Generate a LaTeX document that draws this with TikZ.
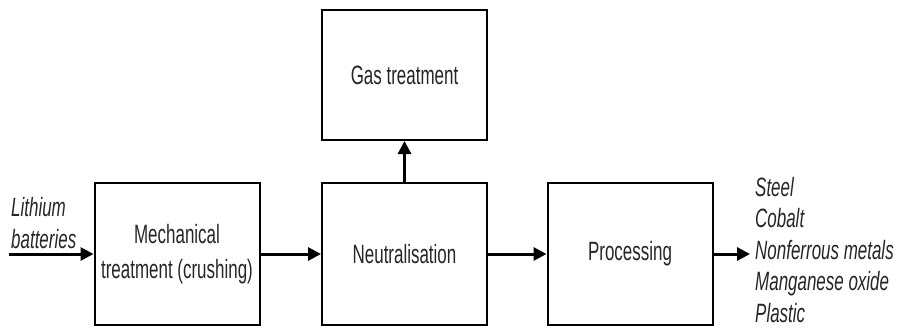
\documentclass[tikz,border=0pt]{standalone}
\usepackage{fontspec}
\setmainfont[FakeStretch=0.64]{Liberation Sans}
\usetikzlibrary{arrows.meta}
\begin{document}
\begin{tikzpicture}[x=1pt,y=-1pt,
  font=\fontsize{26.5}{33}\selectfont,
  stage/.style={draw=black, line width=2pt, minimum width=165pt, minimum height=142pt,
    align=center, inner sep=0pt, text=black!85},
  flow/.style={line width=3pt, -{Triangle[length=13pt,width=13pt]}},
  label/.style={inner sep=0pt, align=left, text=black!85, font=\fontsize{26.5}{32.5}\selectfont\itshape}]
  \useasboundingbox (0,0) rectangle (901,327);
  \node[stage] (mech) at (177,254) {Mechanical\\[2pt]treatment (crushing)};
  \node[stage] (neut) at (404.5,254) {Neutralisation};
  \node[stage, minimum height=130pt] (gas) at (404.5,75) {Gas treatment};
  \node[stage] (proc) at (630,254) {Processing};
  \node[label, anchor=south west] (lith) at (11,249) {Lithium\\batteries};
  \coordinate (src) at (9,254);
  \node[label, inner xsep=5pt, anchor=west, font=\fontsize{26.5}{31.5}\selectfont\itshape]
    (out) at (750,250) {Steel\\Cobalt\\Nonferrous metals\\Manganese oxide\\Plastic};
  \draw[flow] (src) -- (mech.west);
  \draw[flow] (mech) -- (neut);
  \draw[flow] (neut) -- (proc);
  \draw[flow] (proc) -- (proc.east -| out.west);
  \draw[flow] (neut) -- (gas);
\end{tikzpicture}
\end{document}
